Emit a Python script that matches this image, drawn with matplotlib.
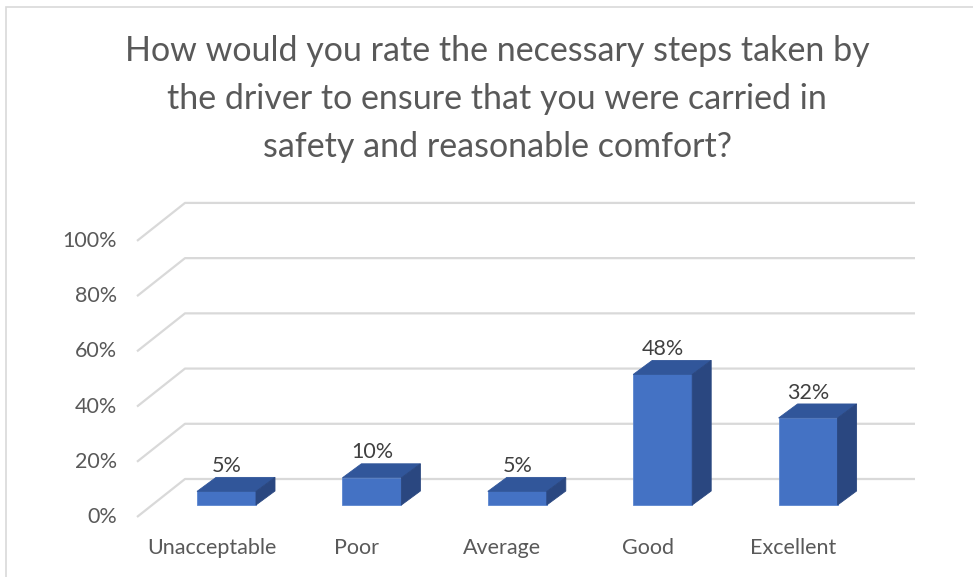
import matplotlib
matplotlib.use("Agg")
import matplotlib.pyplot as plt
from matplotlib.patches import Polygon, Rectangle

plt.rcParams['font.family'] = ['Lato', 'DejaVu Sans']

# Data
categories = ["Unacceptable", "Poor", "Average", "Good", "Excellent"]
values = [5, 10, 5, 48, 32]
ticks = [0, 20, 40, 60, 80, 100]
title = ("How would you rate the necessary steps taken by\n"
         "the driver to ensure that you were carried in\n"
         "safety and reasonable comfort?")

# Colours
c_front = "#4472C4"
c_top = "#31569A"
c_side = "#2A4780"
c_grid = "#D9D9D9"
c_text = "#595959"

W, H = 973, 577
fig = plt.figure(figsize=(W / 100, H / 100), dpi=100)
ax = fig.add_axes([0, 0, 1, 1])

# layout: pixel position of bar 0 centre / base and scales
x0_px, step_px = 226.5, 145.4
base_px, pct_px = 505, 2.72
ax.set_xlim((0 - x0_px) / step_px, (W - x0_px) / step_px)
ax.set_ylim((base_px - H) / pct_px, base_px / pct_px)
ax.axis("off")

def px_x(p):
    return (p - x0_px) / step_px

def px_dy(p):
    return p / pct_px

# 3D walls / gridlines
wall_scale = 1.015
front_x, back_x, right_x = px_x(137), px_x(185), px_x(915)
front_off, back_off = px_dy(-12), px_dy(26)
for t in ticks:
    yf = front_off + t * wall_scale
    yb = back_off + t * wall_scale
    ax.plot([front_x, back_x, right_x], [yf, yb, yb], color=c_grid, lw=1.6,
            solid_capstyle="butt", zorder=1)
    ax.text(px_x(117), yf, f"{t}%", ha="right", va="center", fontsize=15.5,
            color=c_text)

# bars
bw = 59 / step_px
ddx, ddy = 19 / step_px, px_dy(14)
for i, v in enumerate(values):
    l, r = i - bw / 2, i + bw / 2
    ax.bar(i, v, width=bw, color=c_front, edgecolor="#5B86D0", lw=0.6, zorder=3)
    ax.add_patch(Polygon([(l, v), (r, v), (r + ddx, v + ddy), (l + ddx, v + ddy)],
                         closed=True, facecolor=c_top, edgecolor=c_top, lw=0.6, zorder=3))
    ax.add_patch(Polygon([(r, 0), (r + ddx, ddy), (r + ddx, v + ddy), (r, v)],
                         closed=True, facecolor=c_side, edgecolor=c_side, lw=0.6, zorder=3))
    ax.annotate(f"{v}%", (i, v + ddy), xytext=(0, 1), textcoords="offset points",
                ha="center", va="bottom", fontsize=15.5, color="#404040", zorder=4)
    ax.text(i - 15 / step_px, px_dy(-43), categories[i], ha="center", va="center",
            fontsize=15.5, color=c_text)

fig.text(497 / W, 1 - 99 / H, title, ha="center", va="center", fontsize=24.5,
         color=c_text, linespacing=1.62)

# chart border
fig.patches.append(Rectangle((6 / W, -0.1), 1.2, 1 - 7 / H + 0.1, transform=fig.transFigure,
                             fill=False, edgecolor="#D9D9D9", lw=1.2))

fig.savefig("out.png", dpi=100)
